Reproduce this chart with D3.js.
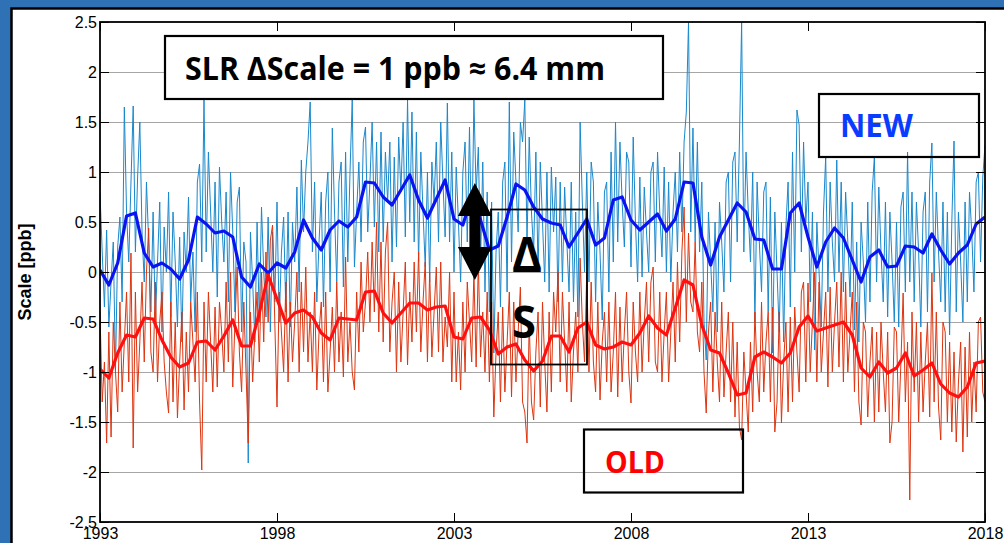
<!DOCTYPE html>
<html>
<head>
<meta charset="utf-8">
<script src="https://cdn.jsdelivr.net/npm/d3@7"></script>
<style>
  body { margin: 0; background: #fff; }
  svg { display: block; }
</style>
</head>
<body>
<div class="chart"></div>
<script>
const width = 1004;
const height = 543;
const plot = { left: 100, right: 985, top: 22, bottom: 522 };

// x axis categories
const yearTicks = [1993, 1998, 2003, 2008, 2013, 2018];
const valueTicks = [2.5, 2, 1.5, 1, 0.5, 0, -0.5, -1, -1.5, -2, -2.5];
const valueTickLabels = ["2.5", "2", "1.5", "1", "0.5", "0", "-0.5", "-1", "-1.5", "-2", "-2.5"];

// smoothed (quarterly) series, 1993.00 .. 2018.00
const newSmooth = [
  0.02, -0.13, 0.09, 0.56, 0.59, 0.19, 0.05, 0.09, 0.03, -0.07, 0.12, 0.55,
  0.48, 0.39, 0.41, 0.35, -0.05, -0.15, 0.08, -0.01, 0.09, 0.04, 0.20, 0.52,
  0.34, 0.22, 0.42, 0.51, 0.45, 0.55, 0.90, 0.89, 0.75, 0.67, 0.82, 0.97,
  0.72, 0.54, 0.73, 0.92, 0.53, 0.47, 0.75, 0.52, 0.22, 0.26, 0.55, 0.88,
  0.82, 0.65, 0.53, 0.49, 0.47, 0.25, 0.39, 0.53, 0.27, 0.34, 0.72, 0.75,
  0.52, 0.42, 0.50, 0.58, 0.41, 0.53, 0.90, 0.89, 0.35, 0.07, 0.35, 0.52,
  0.69, 0.60, 0.33, 0.32, 0.03, 0.03, 0.59, 0.69, 0.35, 0.05, 0.30, 0.44,
  0.34, 0.12, -0.10, 0.15, 0.22, 0.05, 0.06, 0.26, 0.25, 0.19, 0.38, 0.22,
  0.08, 0.19, 0.27, 0.48, 0.55
];
const oldSmooth = [
  -0.97, -1.06, -0.81, -0.63, -0.65, -0.46, -0.47, -0.68, -0.85, -0.95, -0.91, -0.70,
  -0.69, -0.78, -0.64, -0.48, -0.74, -0.74, -0.41, -0.03, -0.27, -0.51, -0.41, -0.38,
  -0.45, -0.61, -0.68, -0.46, -0.47, -0.48, -0.20, -0.19, -0.41, -0.51, -0.41, -0.31,
  -0.31, -0.38, -0.35, -0.34, -0.65, -0.67, -0.46, -0.45, -0.58, -0.82, -0.75, -0.72,
  -0.88, -0.99, -0.89, -0.64, -0.64, -0.80, -0.56, -0.50, -0.73, -0.77, -0.75, -0.70,
  -0.73, -0.61, -0.44, -0.56, -0.63, -0.36, -0.08, -0.13, -0.53, -0.78, -0.81, -1.01,
  -1.23, -1.21, -0.85, -0.80, -0.85, -0.91, -0.81, -0.55, -0.44, -0.59, -0.56, -0.53,
  -0.50, -0.63, -0.96, -1.05, -0.90, -1.01, -0.96, -0.81, -1.04, -0.98, -0.91, -1.12,
  -1.21, -1.25, -1.15, -0.91, -0.89
];

// raw series, 16 samples per year, 1993.0 .. 2018.0
const newRaw = [
  0.79, 0.20, -0.35, 0.42, -0.55, -0.10, 0.30, -0.98, 0.25, 0.55, -0.30, 1.65, 0.60, 0.10, 0.90, 1.66,
  0.20, 0.95, 1.50, 0.40, -0.10, 0.90, 0.30, -0.40, 0.60, -0.50, 0.10, 0.70, -0.60, 0.45, 0.00, 0.80,
  -0.45, 0.60, 0.10, -0.55, 0.35, -0.70, 0.40, 0.00, 0.75, -0.30, 0.20, -0.60, 0.90, 1.08, 0.10, 1.72,
  0.20, 1.20, 0.60, 0.00, 0.90, -0.25, 1.05, 0.50, 0.10, 0.80, -0.30, 1.00, 0.40, -0.40, 0.70, 0.85,
  -0.60, 0.30, 0.10, -1.91, 0.40, -0.10, -0.70, 0.50, -0.50, 0.65, 0.00, -0.45, 0.55, -0.60, 0.40, -0.30,
  0.70, -0.50, 0.20, 0.55, -0.40, 0.60, -0.55, 0.50, 0.10, 0.85, -0.20, 1.12, 0.40, 1.00, 1.30, 1.70,
  0.20, 0.90, -0.30, 0.30, 0.80, -0.35, 0.70, 1.00, -0.20, 1.44, 0.60, -0.10, 0.90, 1.10, -0.15, 1.20,
  0.10, 1.00, 1.72, 0.05, 0.60, 1.10, 0.30, 1.30, 1.45, 0.40, 0.90, 1.50, 0.45, 1.30, 0.20, 1.40,
  0.30, 1.20, 0.70, 1.30, 0.10, 1.15, 0.25, 1.35, 0.80, 1.50, 0.35, 1.72, 0.50, 1.60, 0.30, 1.40,
  0.10, 1.20, 0.60, 0.05, 1.00, -0.10, 1.10, 0.70, 1.30, 0.30, 1.50, 0.90, 0.35, 1.69, 0.30, 1.20,
  0.00, 1.05, 0.50, -0.10, 1.00, 1.30, 0.30, 1.45, 0.20, 1.72, 0.80, 1.25, 0.10, 1.10, -0.20, 0.80,
  -0.40, 0.70, -0.81, 0.20, 0.60, -0.35, 0.90, 1.10, -0.20, 1.70, 0.10, 1.40, 0.90, 0.40, 1.50, 1.30,
  1.72, 0.30, 1.35, 0.60, 0.20, 1.20, 0.00, 1.10, 0.50, -0.10, 1.00, -0.20, 1.05, 0.40, 0.95, -0.30,
  0.90, -0.10, 0.85, 0.30, -0.20, 0.90, -0.30, 0.60, -0.45, 1.50, 0.70, 0.00, 1.00, -0.10, 1.10, 0.90,
  -0.30, 0.70, 0.20, -0.48, 0.80, 0.90, -0.20, 1.20, 0.10, 1.50, 0.30, 1.30, 0.70, 0.25, 1.20, 1.10,
  0.05, 1.35, 0.50, -0.10, 0.95, -0.05, 0.85, 0.40, 0.00, 1.00, 1.10, 0.10, 1.20, 0.60, 0.15, 1.05,
  0.00, 0.90, -0.10, 0.60, 1.00, 0.20, 1.20, 0.40, 1.30, 1.60, 2.50, 0.40, 1.44, 0.30, 1.30, 0.20,
  0.90, -0.50, -0.88, 0.60, 0.10, -0.40, 0.50, -0.60, 0.70, 0.30, -0.20, 0.90, 1.00, -0.10, 1.10, 1.20,
  0.30, 1.30, 2.50, 0.20, 1.20, 0.60, 0.10, 1.00, -0.50, 0.90, 0.30, -0.20, 0.80, 0.90, -0.40, 0.75,
  -0.81, 0.60, 0.00, -0.60, 0.50, -0.70, 0.45, 0.90, -0.35, 1.20, 0.00, 1.62, 1.47, 0.20, 1.30, 0.50,
  0.90, -0.30, 0.60, -0.78, 0.50, 0.00, -0.55, 0.60, 1.15, -0.20, 0.90, 0.30, -0.10, 1.12, 0.00, 0.90,
  -0.20, 0.80, 0.30, -0.25, 0.70, -0.58, 0.30, -0.70, 0.50, 0.10, -0.50, 0.70, -0.30, 0.80, 1.15, -0.10,
  0.85, 0.20, -0.30, 0.70, -0.45, 0.60, 0.10, -0.50, 0.50, -0.55, 0.65, 0.80, -0.20, 1.20, -0.10, 0.80,
  -0.30, 0.70, 0.20, -0.55, 0.60, 0.80, -0.40, 0.90, 1.29, -0.10, 0.80, 0.20, -0.30, 0.70, -0.40, 0.60,
  -0.63, 0.50, 1.31, -0.40, 0.60, 0.10, -0.50, 0.70, -0.30, 0.80, 0.40, -0.20, 0.90, 1.00, 0.10, 0.95,
  1.27
];
const oldRaw = [
  -0.40, -1.30, -0.90, -1.71, -0.60, -1.65, -0.50, -1.00, -1.40, -0.30, -1.20, -0.70, -0.20, -1.10, 0.19, -1.76,
  -0.20, -1.20, -0.70, -0.10, -0.90, 0.00, 0.44, -0.80, -1.00, -0.10, -1.10, -0.50, -0.20, -0.90, -1.20, -1.41,
  -0.30, -1.30, -0.50, -1.46, -0.90, -0.40, -1.38, -0.60, -1.20, -0.30, -0.70, -1.10, -0.20, -1.30, -1.98, -0.30,
  -1.10, -0.20, -0.70, -1.20, -0.35, -1.15, -0.30, -0.60, -1.00, -0.10, -0.90, 0.00, -1.15, -0.50, 0.05, -0.80,
  -1.20, -0.30, -1.00, -1.71, -0.40, -1.10, -0.60, -0.20, -0.90, 0.00, -0.70, 0.20, -0.50, 0.32, 0.47, -0.50,
  -1.35, -0.20, -0.60, -1.00, -0.10, -1.10, -0.30, -0.90, -0.50, 0.00, -1.00, -0.10, -0.80, 0.05, -0.90, -0.40,
  -1.00, -0.20, -1.18, -0.60, -0.30, -1.10, -0.20, -1.20, -0.80, -0.35, -1.00, -0.10, -0.90, -0.40, -1.05, 0.15,
  -0.90, -0.50, -1.00, -1.18, -0.20, -0.80, 0.10, -0.60, -0.30, 0.20, -0.50, 0.30, -0.40, 0.50, -0.60, 0.30,
  -0.70, 0.20, 0.50, -0.80, -0.30, 0.00, -1.00, -0.10, -0.90, -0.40, 0.10, -0.93, -0.20, -0.70, 0.10, -0.60,
  0.20, -0.80, -0.30, 0.10, -0.90, 0.00, -0.85, -0.40, 0.05, -0.80, 0.10, -0.90, -0.45, -0.75, 0.00, -1.10,
  -0.20, -1.10, -0.60, -1.18, -0.30, -1.00, -0.10, -0.50, -0.90, 0.00, -0.95, 0.10, -0.85, -0.40, -1.00, -0.20,
  -1.10, -0.30, -1.45, -0.80, -0.40, -1.30, -0.35, -1.20, -0.70, -0.20, -1.25, -0.30, -1.10, -0.60, -0.15, -1.30,
  -1.40, -1.71, -0.50, -1.30, -1.48, -0.80, -0.40, -1.35, -0.30, -0.90, -1.40, -0.40, -1.20, -0.20, -0.60, 0.00,
  -1.10, -0.20, -0.70, -1.20, -0.30, -1.30, -0.80, -0.40, -1.00, 0.14, -0.50, -0.90, 0.00, -1.00, -0.10, -0.90,
  -1.20, -0.30, -1.28, -0.70, -0.40, -1.10, -0.30, -1.20, -0.80, -0.20, -1.25, -0.35, -1.10, -0.60, -0.20, -1.00,
  -1.31, -0.30, -0.80, -1.10, -0.20, -1.00, -0.50, -0.10, -0.90, -0.10, 0.05, -0.90, -1.00, -0.20, -1.10, -0.60,
  -0.20, -1.10, -0.60, -0.10, -0.90, 0.10, -0.70, 0.20, 0.65, -0.50, 0.39, -0.30, -0.40, 0.30, -0.60, -0.80,
  -0.10, -1.00, -1.41, -0.60, -0.30, -1.20, -0.40, -0.90, -1.30, -0.30, -1.25, -0.80, -0.40, -1.30, -0.50, -1.45,
  -0.70, -1.55, -1.68, -0.80, -1.20, -1.60, -0.70, -1.40, -0.40, -1.00, -1.30, -0.30, -1.20, -0.70, -0.40, -1.30,
  -0.35, -1.60, -1.30, -0.40, -1.51, -0.90, -0.50, -1.40, -0.45, -1.30, -0.35, -0.80, -1.20, -0.20, -0.10, -1.10,
  -0.11, -1.00, -0.50, 0.00, -1.10, -0.10, -1.00, -0.60, -0.20, -1.15, -0.15, -1.00, -0.50, -0.10, -0.95, 0.00,
  -1.10, -0.10, -1.00, -0.60, -0.20, -1.20, -0.30, -1.30, -1.53, -0.50, -0.60, -1.45, -0.90, -0.55, -1.50, -0.60,
  -1.40, -0.50, -1.00, -1.40, -0.60, -1.71, -1.50, -0.55, -0.60, -1.50, -0.90, -0.21, -1.30, -0.70, -2.28, -0.40,
  -1.20, -0.50, -1.50, -0.60, -1.40, -0.90, -0.50, -1.45, -0.01, -1.30, -0.40, -1.35, -1.68, -0.50, -0.60, -1.50,
  -0.70, -1.60, -0.80, -1.70, -1.10, -0.70, -1.80, -0.75, -1.65, -0.60, -1.50, -0.90, -1.40, -0.50, -0.45, -1.20,
  -1.30
];

const smoothYears = newSmooth.map((d, i) => 1993 + i / 4);
const rawYears = newRaw.map((d, i) => 1993 + i / 16);

const svg = d3.select(".chart").append("svg")
  .attr("width", width)
  .attr("height", height);

// slide frame
svg.append("rect").attr("width", width).attr("height", height).attr("fill", "#2e72b5");
svg.append("rect")
  .attr("x", 11.5).attr("y", 8.5)
  .attr("width", width + 10).attr("height", height + 10)
  .attr("fill", "#fff").attr("stroke", "#000").attr("stroke-width", 2.5);

const x = d3.scaleLinear().domain([1993, 2018]).range([plot.left, plot.right]);
const y = d3.scaleLinear().domain([-2.5, 2.5]).range([plot.bottom, plot.top]);

svg.append("defs").append("clipPath").attr("id", "clip")
  .append("rect")
  .attr("x", plot.left).attr("y", plot.top)
  .attr("width", plot.right - plot.left).attr("height", plot.bottom - plot.top);

// grid
svg.append("g")
  .attr("transform", `translate(${plot.left},0)`)
  .call(d3.axisLeft(y).tickValues(valueTicks.slice(1, -1))
    .tickSize(-(plot.right - plot.left)).tickFormat(""))
  .call(g => g.select(".domain").remove())
  .call(g => g.selectAll("line").attr("stroke", "#a6a6a6").attr("stroke-width", 1.2));

const lines = svg.append("g").attr("clip-path", "url(#clip)");

const rawLine = d3.line().x((d, i) => x(rawYears[i])).y(d => y(d));
const smoothLine = d3.line().x((d, i) => x(smoothYears[i])).y(d => y(d));

lines.append("path").datum(newRaw).attr("d", rawLine)
  .attr("fill", "none").attr("stroke", "#1a88cc").attr("stroke-width", 1);
lines.append("path").datum(oldRaw).attr("d", rawLine)
  .attr("fill", "none").attr("stroke", "#dd3510").attr("stroke-width", 1);
lines.append("path").datum(newSmooth).attr("d", smoothLine)
  .attr("fill", "none").attr("stroke", "#0a14f0").attr("stroke-width", 3.2)
  .attr("stroke-linejoin", "round");
lines.append("path").datum(oldSmooth).attr("d", smoothLine)
  .attr("fill", "none").attr("stroke", "#ff1010").attr("stroke-width", 3.2)
  .attr("stroke-linejoin", "round");

// axes
const tickFont = "'Liberation Sans', Arial, sans-serif";

svg.append("g")
  .attr("transform", `translate(0,${plot.bottom})`)
  .call(d3.axisBottom(x).tickValues(yearTicks).tickFormat(d3.format("d"))
    .tickSizeInner(-9).tickSizeOuter(0).tickPadding(6))
  .call(g => g.select(".domain").remove())
  .call(g => g.selectAll("text").attr("font-size", 16).attr("font-family", tickFont).attr("fill", "#000"));

svg.append("g")
  .attr("transform", `translate(0,${plot.top})`)
  .call(d3.axisTop(x).tickValues(yearTicks).tickFormat("").tickSizeInner(-9).tickSizeOuter(0))
  .call(g => g.select(".domain").remove());

svg.append("g")
  .attr("transform", `translate(${plot.left},0)`)
  .call(d3.axisLeft(y).tickValues(valueTicks)
    .tickFormat((d, i) => valueTickLabels[i])
    .tickSizeInner(-9).tickSizeOuter(0).tickPadding(3))
  .call(g => g.select(".domain").remove())
  .call(g => g.selectAll("text").attr("font-size", 16).attr("font-family", tickFont).attr("fill", "#000"));

svg.append("g")
  .attr("transform", `translate(${plot.right},0)`)
  .call(d3.axisRight(y).tickValues(valueTicks).tickFormat("").tickSizeInner(-9).tickSizeOuter(0))
  .call(g => g.select(".domain").remove());

svg.append("rect")
  .attr("x", plot.left).attr("y", plot.top)
  .attr("width", plot.right - plot.left).attr("height", plot.bottom - plot.top)
  .attr("fill", "none").attr("stroke", "#000").attr("stroke-width", 1.8);

svg.append("text")
  .attr("transform", "translate(31,272) rotate(-90)")
  .attr("text-anchor", "middle")
  .attr("font-family", tickFont).attr("font-weight", "bold").attr("font-size", 18)
  .text("Scale [ppb]");

// annotations
const boxFont = "'Open Sans', 'Noto Sans', sans-serif";

svg.append("rect")
  .attr("x", 165).attr("y", 36).attr("width", 498).attr("height", 63)
  .attr("fill", "#fff").attr("stroke", "#000").attr("stroke-width", 2.2);
svg.append("text")
  .attr("x", 185).attr("y", 80)
  .attr("font-family", boxFont).attr("font-weight", "bold").attr("font-size", 32)
  .attr("textLength", 420).attr("lengthAdjust", "spacingAndGlyphs")
  .text("SLR ΔScale = 1 ppb ≈ 6.4 mm");

svg.append("rect")
  .attr("x", 819).attr("y", 94).attr("width", 160).attr("height", 63)
  .attr("fill", "none").attr("stroke", "#000").attr("stroke-width", 2.2);
svg.append("text")
  .attr("x", 840).attr("y", 137)
  .attr("font-family", boxFont).attr("font-weight", "bold").attr("font-size", 32)
  .attr("textLength", 73).attr("lengthAdjust", "spacingAndGlyphs")
  .attr("fill", "#0a3cff")
  .text("NEW");

svg.append("rect")
  .attr("x", 584).attr("y", 429.5).attr("width", 159).attr("height", 63)
  .attr("fill", "none").attr("stroke", "#000").attr("stroke-width", 2.2);
svg.append("text")
  .attr("x", 605).attr("y", 473)
  .attr("font-family", boxFont).attr("font-weight", "bold").attr("font-size", 31)
  .attr("textLength", 60).attr("lengthAdjust", "spacingAndGlyphs")
  .attr("fill", "#ff0000")
  .text("OLD");

svg.append("rect")
  .attr("x", 491).attr("y", 209.5).attr("width", 96).attr("height", 155)
  .attr("fill", "none").attr("stroke", "#000").attr("stroke-width", 1.8);
svg.append("text")
  .attr("x", 512).attr("y", 272)
  .attr("font-family", boxFont).attr("font-weight", "bold").attr("font-size", 48)
  .attr("textLength", 30).attr("lengthAdjust", "spacingAndGlyphs")
  .text("Δ");
svg.append("text")
  .attr("x", 512).attr("y", 338)
  .attr("font-family", boxFont).attr("font-weight", "bold").attr("font-size", 45)
  .attr("textLength", 24).attr("lengthAdjust", "spacingAndGlyphs")
  .text("S");

// double arrow between the two smoothed curves
const ax = x(2003.59), aTop = y(0.89), aBot = y(-0.08);
const head = 33, halfHead = 17, halfShaft = 5.5;
svg.append("path")
  .attr("d", [
    [ax, aTop], [ax + halfHead, aTop + head], [ax + halfShaft, aTop + head],
    [ax + halfShaft, aBot - head], [ax + halfHead, aBot - head], [ax, aBot],
    [ax - halfHead, aBot - head], [ax - halfShaft, aBot - head],
    [ax - halfShaft, aTop + head], [ax - halfHead, aTop + head]
  ].map((p, i) => (i ? "L" : "M") + p[0] + "," + p[1]).join("") + "Z")
  .attr("fill", "#000");
</script>
</body>
</html>
